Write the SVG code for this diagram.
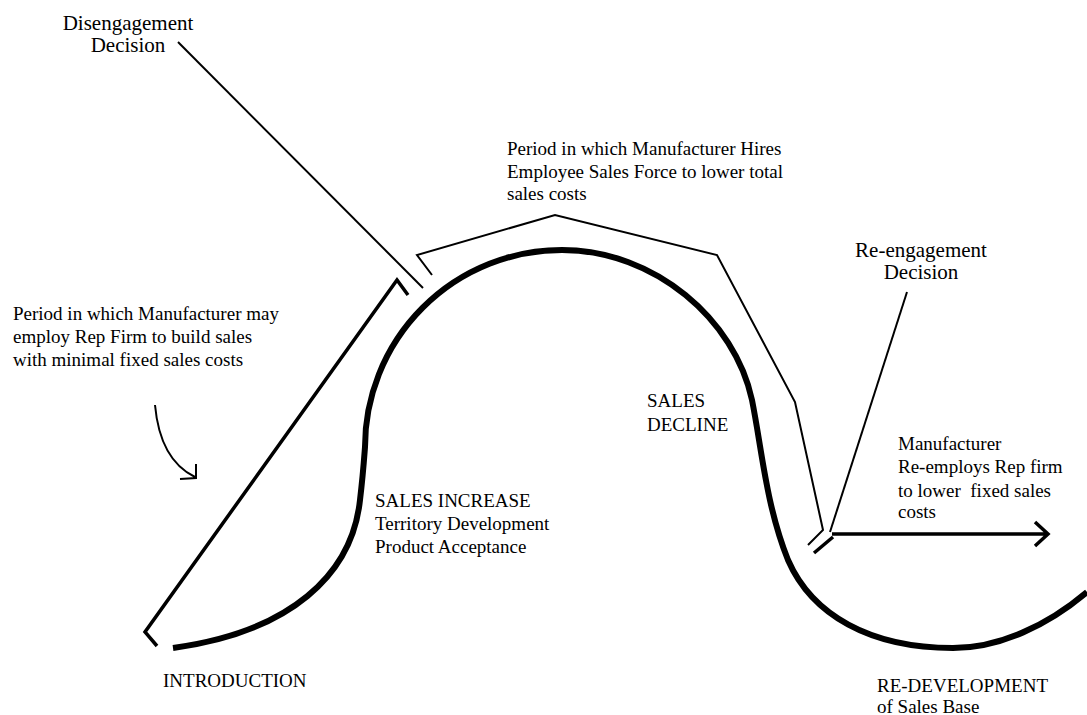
<svg xmlns="http://www.w3.org/2000/svg" width="1087" height="715" viewBox="0 0 1087 715">
<style>
text{font-family:"Liberation Serif","Times New Roman",serif;fill:#000;font-size:19px}
.dec{font-size:21px;text-anchor:middle}
.thick{fill:none;stroke:#000;stroke-width:6;stroke-linecap:butt}
.thin{fill:none;stroke:#000;stroke-width:2;stroke-linejoin:miter}
.med{fill:none;stroke:#000;stroke-width:3.5;stroke-linejoin:miter}
</style>
<rect width="1087" height="715" fill="#fff"/>
<g id="connectors">
<path id="sales-curve" class="thick" d="M173,648 C290,632 352,575 360,500 C363,475 364,460 365,447 A197,197 0 0 1 562,250 C655,250 735,320 752,400 C762,450 766,505 788,560 C812,615 870,648 953,648 C1000,648 1048,625 1087,592"/>
<path id="rep-bracket" class="med" d="M157,646 L145,632 L397,280 L408,295"/>
<path id="disengage-line" class="thin" d="M178,42 L423,288"/>
<path id="employee-bracket" class="thin" d="M432,275 L417,255 L555,215 L717,255 L795,402 L823,530 L808,545"/>
<path id="reengage-line" class="thin" d="M907,292 L830,532"/>
<path id="rep-again-tick" class="med" d="M814,553 L833,537"/>
<path id="rep-again-arrow" class="med" d="M832,534 L1048,534 M1035,522 L1048,534 L1035,546"/>
<path id="curved-arrow" class="thin" d="M155,405 Q160,460 195,477 M180,479 L196,478 L196,464"/>
</g>
<g id="disengagement">
<text class="dec" x="128" y="30">Disengagement</text>
<text class="dec" x="128" y="52">Decision</text>
</g>
<g id="rep-period">
<text x="13" y="320">Period in which Manufacturer may</text>
<text x="13" y="343">employ Rep Firm to build sales</text>
<text x="13" y="366">with minimal fixed sales costs</text>
</g>
<g id="employee-period">
<text x="507" y="155">Period in which Manufacturer Hires</text>
<text x="507" y="178">Employee Sales Force to lower total</text>
<text x="507" y="200">sales costs</text>
</g>
<g id="reengagement">
<text class="dec" x="921" y="257">Re-engagement</text>
<text class="dec" x="921" y="279">Decision</text>
</g>
<g id="rep-again">
<text x="898" y="450">Manufacturer</text>
<text x="898" y="473">Re-employs Rep firm</text>
<text x="898" y="497" xml:space="preserve">to lower  fixed sales</text>
<text x="898" y="518">costs</text>
</g>
<g id="sales-increase">
<text x="375" y="507">SALES INCREASE</text>
<text x="375" y="530">Territory Development</text>
<text x="375" y="553">Product Acceptance</text>
</g>
<g id="sales-decline">
<text x="647" y="407">SALES</text>
<text x="647" y="431">DECLINE</text>
</g>
<g id="introduction">
<text x="163" y="687">INTRODUCTION</text>
</g>
<g id="redevelopment">
<text x="877" y="692">RE-DEVELOPMENT</text>
<text x="877" y="713">of Sales Base</text>
</g>
</svg>
